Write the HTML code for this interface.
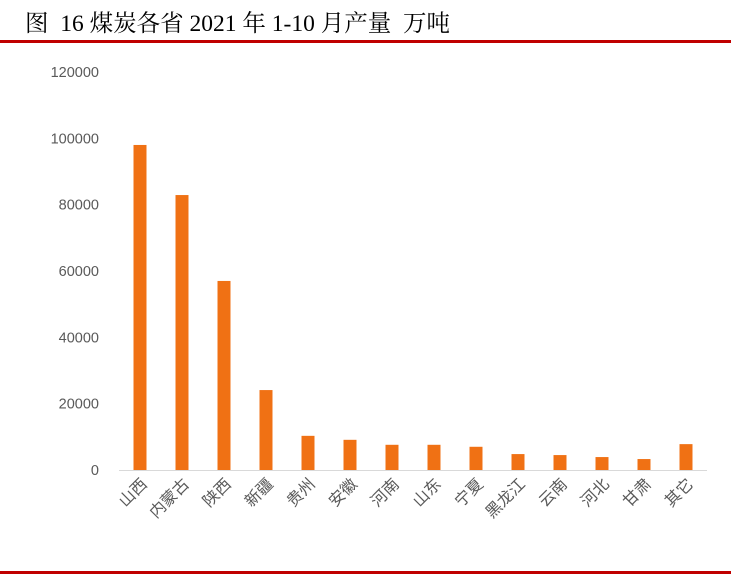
<!DOCTYPE html>
<html><head><meta charset="utf-8"><style>
body{margin:0;width:731px;height:576px;background:#fff;overflow:hidden;font-family:"Liberation Serif","Noto Serif CJK SC",serif}
#title{position:absolute;left:25px;top:4px;font-size:23.5px;color:#000;white-space:nowrap}
#top-rule{position:absolute;left:0;top:40px;width:731px;height:3px;background:#c00000}
#bottom-rule{position:absolute;left:0;top:571px;width:731px;height:3px;background:#c00000}
svg{position:absolute;left:0;top:0}
</style></head><body>
<div id="title">图&nbsp; 16 煤炭各省 2021 年 1-10 月产量&nbsp; 万吨</div>
<div id="top-rule"></div>
<svg id="chart" width="731" height="576"></svg>
<div id="bottom-rule"></div>
<script>
const categories=["山西","内蒙古","陕西","新疆","贵州","安徽","河南","山东","宁夏","黑龙江","云南","河北","甘肃","其它"];
const values=[98000,82900,57000,24100,10300,9100,7600,7600,7000,4800,4500,3900,3300,7800];
const yTicks=[0,20000,40000,60000,80000,100000,120000];
const NS="http://www.w3.org/2000/svg";
const svg=document.getElementById('chart');
const y0=470,yTop=72,yMax=120000,x0=119,x1=707;
const y=v=>y0-(v/yMax)*(y0-yTop);
const step=(x1-x0)/categories.length;
const xc=i=>x0+step*(i+0.5);
function mk(t,a){const e=document.createElementNS(NS,t);for(const k in a)e.setAttribute(k,a[k]);svg.appendChild(e);return e;}
yTicks.forEach(v=>{
 const t=mk('text',{x:99,y:y(v)+5,'text-anchor':'end','font-size':'14.5','fill':'#595959','font-family':'Liberation Sans,sans-serif'});
 
 
 t.textContent=v;
});
const ax=mk('line',{x1:x0,x2:x1,y1:y0+0.5,y2:y0+0.5,stroke:'#d9d9d9','stroke-width':1});


categories.forEach((c,i)=>{
 const r=mk('rect',{x:xc(i)-6.5,y:y(values[i]),width:13,height:y0-y(values[i]),fill:'#f07114'});
 
 
 const cx=xc(i)+5,cy=y0+12;
 const t=mk('text',{x:cx,y:cy,'text-anchor':'end','font-size':'16','fill':'#595959','font-family':'Noto Sans CJK SC,sans-serif',transform:`rotate(-45 ${cx} ${cy})`,'dominant-baseline':'middle'});
 
 
 t.textContent=c;
});
</script>
</body></html>
